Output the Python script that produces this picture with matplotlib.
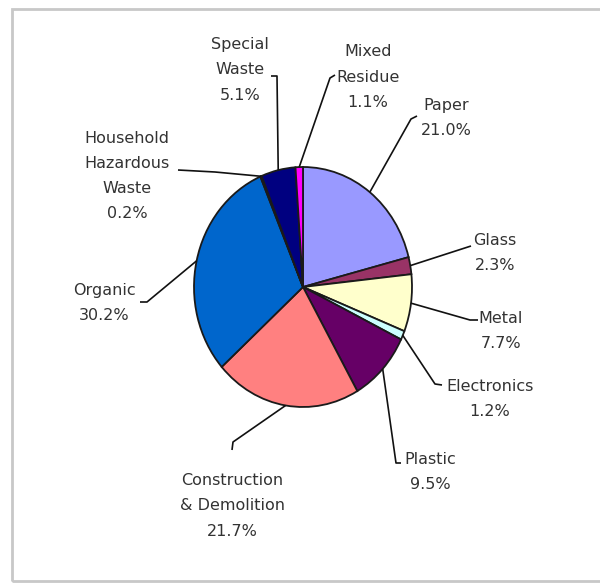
import matplotlib.pyplot as plt
import matplotlib.patches as mpatches
import numpy as np

labels = ['Paper', 'Glass', 'Metal', 'Electronics', 'Plastic',
          'Construction\n& Demolition', 'Organic', 'Household\nHazardous\nWaste',
          'Special\nWaste', 'Mixed\nResidue']
shares = [21.0, 2.3, 7.7, 1.2, 9.5, 21.7, 30.2, 0.2, 5.1, 1.1]
colors = ['#9999FF', '#993366', '#FFFFCC', '#CCFFFF', '#660066',
          '#FF8080', '#0066CC', '#CCCCFF', '#000080', '#FF00FF']

# pie placement in pixels (center, radii)
cx, cy, rx, ry = 303, 287, 109, 120

# label block centres and leader elbow points, in pixels
label_pos = [(446, 118), (495, 253), (501, 331), (490, 399), (430, 472),
             (232, 506), (104, 303), (127, 176), (240, 70), (368, 77)]
elbows = [[(417, 116), (411, 119)],
          [(471, 246)],
          [(478, 320), (470, 320)],
          [(442, 385), (435, 384)],
          [(401, 463), (396, 463)],
          [(232, 450), (233, 442)],
          [(140, 302), (147, 302)],
          [(178, 170), (215, 172)],
          [(271, 76), (277, 76)],
          [(335, 75), (330, 78)]]


def px(x, y):
    return (x - cx) / rx, (cy - y) / ry


fig = plt.figure(figsize=(6.0, 5.84), dpi=100)
ax = fig.add_axes([0, 0, 1, 1])
ax.pie(shares, colors=colors, startangle=90, counterclock=False,
       wedgeprops=dict(edgecolor='#1a1a1a', linewidth=1.3))
ax.set_aspect('auto')
ax.set_xlim(px(0, 0)[0], px(600, 0)[0])
ax.set_ylim(px(0, 584)[1], px(0, 0)[1])
ax.axis('off')

cum = np.cumsum([0] + shares[:-1])
for i, (lab, v) in enumerate(zip(labels, shares)):
    ang = np.deg2rad(90 - 360 * (cum[i] + v / 2) / 100)
    pts = [px(*p) for p in elbows[i]] + [(np.cos(ang), np.sin(ang))]
    xs, ys = zip(*pts)
    ax.plot(xs, ys, color='#111111', lw=1.2, solid_capstyle='butt')
    tx, ty = px(*label_pos[i])
    ax.text(tx, ty, f'{lab}\n{v:.1f}%', ha='center', va='center',
            fontsize=11.5, family='DejaVu Sans', color='#333333',
            linespacing=1.86)

frame = mpatches.Rectangle((12 / 600, 3 / 584), 1.0, 572 / 584,
                           transform=fig.transFigure, fill=False,
                           edgecolor='#c8c8c8', lw=2)
fig.patches.append(frame)

fig.savefig('out.png', dpi=100)
